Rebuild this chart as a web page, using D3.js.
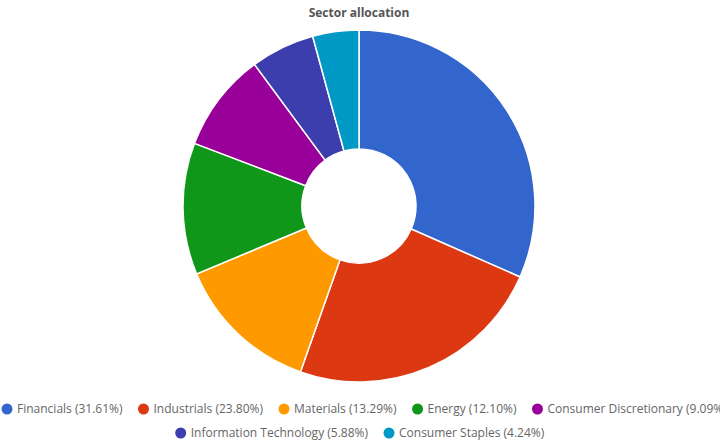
<!DOCTYPE html><html><head><meta charset="utf-8"><script src="https://cdn.jsdelivr.net/npm/d3@7"></script>
<style>body{margin:0;background:#fff}text{font-family:"Open Sans",sans-serif}</style></head><body><svg width="720" height="443"></svg>
<script>
const categories=["Financials","Industrials","Materials","Energy","Consumer Discretionary","Information Technology","Consumer Staples"];
const values=[31.61,23.80,13.29,12.10,9.09,5.88,4.24];
const colors=["#3366cc","#dc3912","#ff9900","#109618","#990099","#3b3eac","#0099c6"];
const svg=d3.select("svg");
svg.append("text").attr("x",359).attr("y",17).attr("text-anchor","middle").attr("font-size",12).attr("font-weight","bold").attr("fill","#555").text("Sector allocation");
const pie=d3.pie().sort(null)(values);
const arc=d3.arc().innerRadius(57).outerRadius(176);
const g=svg.append("g").attr("transform","translate(359,206)");
g.selectAll("path").data(pie).join("path").attr("d",arc).attr("fill",(d,i)=>colors[i]).attr("stroke","#fff").attr("stroke-width",1.5);
const rows=[[0,1,2,3,4],[5,6]];
const ys=[410,434];
const fs=12;
rows.forEach((r,ri)=>{
  const tmp=svg.append("g");
  let x=0;const items=[];
  r.forEach(i=>{const t=tmp.append("text").attr("font-size",fs).text(`${categories[i]} (${values[i].toFixed(2)}%)`);const w=t.node().getComputedTextLength();t.remove();items.push({i,w,x});x+=15+w+16;});
  const total=x-16;const x0=Math.max(2,(720-total)/2);
  items.forEach(it=>{
    const gx=x0+it.x;
    svg.append("circle").attr("cx",gx+5).attr("cy",ys[ri]-1).attr("r",5.5).attr("fill",colors[it.i]);
    svg.append("text").attr("x",gx+15).attr("y",ys[ri]+3).attr("font-size",fs).attr("fill","#666").text(`${categories[it.i]} (${values[it.i].toFixed(2)}%)`);
  });
  tmp.remove();
});
</script></body></html>
